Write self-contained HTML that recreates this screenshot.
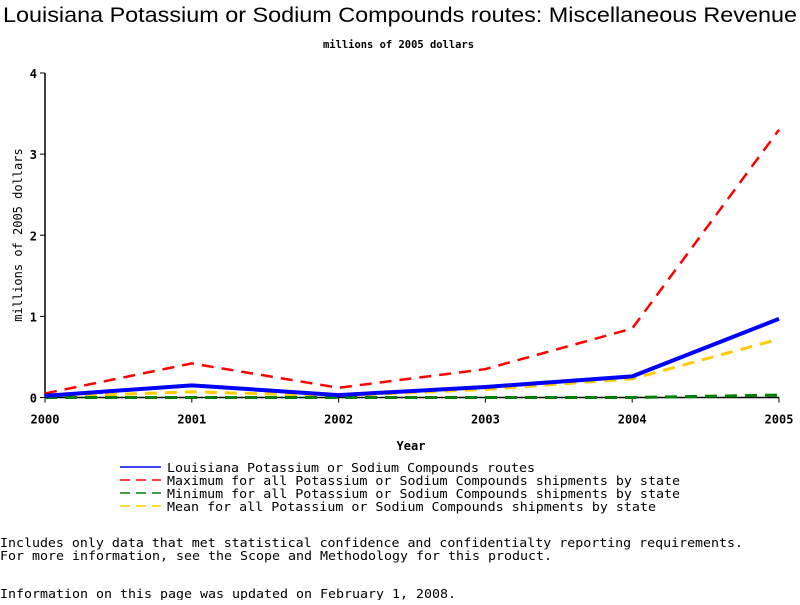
<!DOCTYPE html>
<html><head><meta charset="utf-8"><style>
body{margin:0;background:#fff;width:800px;height:600px;overflow:hidden}
svg text{font-family:"DejaVu Sans Mono","Liberation Mono",monospace}
</style></head><body>
<svg width="800" height="600">
<text x="3" y="22" textLength="794" lengthAdjust="spacingAndGlyphs" style="font-family:'Liberation Sans',sans-serif" font-size="21">Louisiana Potassium or Sodium Compounds routes: Miscellaneous Revenue</text>
<text x="323" y="48" textLength="151" lengthAdjust="spacingAndGlyphs" font-size="11" font-weight="bold">millions of 2005 dollars</text>
<g id="axes"></g><g id="series"></g>
<text x="411" y="450" text-anchor="middle" font-size="12" font-weight="bold">Year</text>
<text transform="translate(22,235) rotate(-90)" text-anchor="middle" font-size="12">millions of 2005 dollars</text>
<g id="legend"></g>
<text x="0" y="547" textLength="743" lengthAdjust="spacingAndGlyphs" font-size="12.5">Includes only data that met statistical confidence and confidentialty reporting requirements.</text>
<text x="0" y="560" textLength="552" lengthAdjust="spacingAndGlyphs" font-size="12.5">For more information, see the Scope and Methodology for this product.</text>
<text x="0" y="598" textLength="456" lengthAdjust="spacingAndGlyphs" font-size="12.5">Information on this page was updated on February 1, 2008.</text>
</svg>
<script>
const years=[2000,2001,2002,2003,2004,2005];
const yTicks=[0,1,2,3,4];
const louisiana=[0.02,0.15,0.03,0.13,0.26,0.97];
const maximum=[0.05,0.42,0.12,0.35,0.85,3.3];
const minimum=[0,0,0,0,0,0.03];
const mean=[0.01,0.07,0.02,0.10,0.23,0.72];
const NS='http://www.w3.org/2000/svg';
const X0=45,X1=779,Y0=397.5,Y1=73;
const xs=i=>X0+(X1-X0)*i/(years.length-1);
const ys=v=>Y0-(Y0-Y1)*v/4;
function mk(t,a,p){const e=document.createElementNS(NS,t);for(const k in a)e.setAttribute(k,a[k]);p.appendChild(e);return e;}
const ax=document.getElementById('axes');
let l=mk('line',{x1:X0,y1:Y1,x2:X0,y2:Y0,stroke:'#000','stroke-width':1.5},ax);


l=mk('line',{x1:X0,y1:Y0,x2:X1,y2:Y0,stroke:'#000','stroke-width':1.5},ax);


yTicks.forEach(v=>{mk('line',{x1:X0-5,y1:ys(v),x2:X0,y2:ys(v),stroke:'#000'},ax);
const t=mk('text',{x:X0-8,y:ys(v)+5,'text-anchor':'end','font-size':12,'font-weight':'bold'},ax);t.textContent=v;

});
years.forEach((y,i)=>{mk('line',{x1:xs(i),y1:Y0,x2:xs(i),y2:Y0+5,stroke:'#000'},ax);
const t=mk('text',{x:xs(i),y:Y0+26,'text-anchor':'middle','font-size':12,'font-weight':'bold'},ax);t.textContent=y;

});
const sg=document.getElementById('series');
const series=[[mean,'#ffcc00',3,'12 8','mean-line'],[minimum,'#008000',3,'12 8','minimum-line'],[maximum,'#ff0000',2.5,'12 8','maximum-line'],[louisiana,'#0000ff',4,'','louisiana-line']];
series.forEach(s=>{const p=mk('polyline',{points:s[0].map((v,i)=>xs(i)+','+ys(v)).join(' '),fill:'none',stroke:s[1],'stroke-width':s[2],'stroke-dasharray':s[3]},sg);

});
const lg=document.getElementById('legend');
const leg=[['Louisiana Potassium or Sodium Compounds routes','#0000ff','',368],['Maximum for all Potassium or Sodium Compounds shipments by state','#ff0000','10 6',513],['Minimum for all Potassium or Sodium Compounds shipments by state','#008000','10 6',513],['Mean for all Potassium or Sodium Compounds shipments by state','#ffcc00','10 6',489]];
leg.forEach((e,i)=>{const y=467+i*13;const g=mk('g',{},lg);


mk('line',{x1:120,y1:y,x2:161,y2:y,stroke:e[1],'stroke-width':1.5,'stroke-dasharray':e[2]},g);
const t=mk('text',{x:167,y:y+5,'font-size':12.5,textLength:e[3],lengthAdjust:'spacingAndGlyphs'},g);t.textContent=e[0];});
</script>
</body></html>
